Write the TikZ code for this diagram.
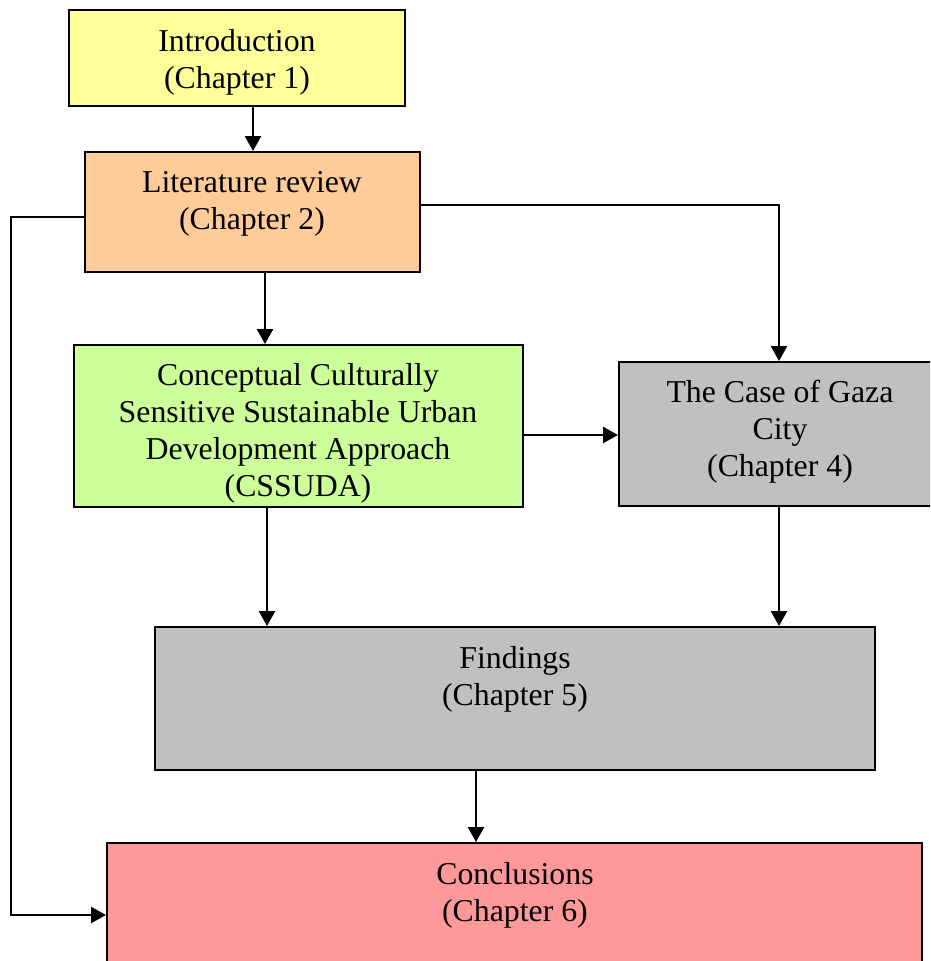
\documentclass[tikz,border=0pt]{standalone}
\usepackage{fontspec}
\setmainfont{Liberation Serif}
\usetikzlibrary{arrows.meta}

\definecolor{introfill}{HTML}{FFFF99}
\definecolor{litfill}{HTML}{FFCC99}
\definecolor{conceptfill}{HTML}{CCFF99}
\definecolor{grayfill}{HTML}{C0C0C0}
\definecolor{conclfill}{HTML}{FF9999}

\begin{document}
\begin{tikzpicture}[x=1pt,y=-1pt,
  box/.style={draw=black, line width=2pt, rectangle, inner sep=0pt},
  label text/.style={align=center, inner sep=0pt,
    font=\fontsize{31.8}{37}\selectfont},
  arr/.style={draw=black, line width=2.5pt,
    -{Triangle[length=15pt,width=16pt]}}]
\useasboundingbox (0,0) rectangle (930,961);
\clip (0,0) rectangle (930,961);

% chapter boxes
\node[box, fill=introfill,   minimum width=336pt, minimum height=96pt]  (intro)  at (237,58) {};
\node[box, fill=litfill,     minimum width=335pt, minimum height=120pt] (lit)    at (252.5,212) {};
\node[box, fill=conceptfill, minimum width=449pt, minimum height=162pt] (concept) at (298.5,426) {};
\node[box, fill=grayfill,    minimum width=321pt, minimum height=144pt] (gaza)   at (779.5,434) {};
\node[box, fill=grayfill,    minimum width=720pt, minimum height=143pt] (find)   at (515,698.5) {};
\node[box, fill=conclfill,   minimum width=815pt, minimum height=132pt] (concl)  at (514.5,909) {};

% box texts
\node[label text] (intro-t)   at (237,62)   {Introduction\\(Chapter 1)};
\node[label text] (lit-t)     at (252,204)  {Literature review\\(Chapter 2)};
\node[label text] (concept-t) at (298,433)  {Conceptual Culturally\\Sensitive Sustainable Urban\\Development Approach\\(CSSUDA)};
\node[label text] (gaza-t)    at (780,432)  {The Case of Gaza\\City\\(Chapter 4)};
\node[label text] (find-t)    at (515,679)  {Findings\\(Chapter 5)};
\node[label text] (concl-t)   at (515,895)  {Conclusions\\(Chapter 6)};

% routing columns and rows
\coordinate (c253) at (253,0);
\coordinate (c265) at (265,0);
\coordinate (c267) at (267,0);
\coordinate (c476) at (476,0);
\coordinate (c779) at (779,0);
\coordinate (r205) at (0,205);
\coordinate (r435) at (0,435);
\coordinate (bendtop) at (11,217);
\coordinate (bendbot) at (11,915);

% connectors
\draw[arr] (intro.south -| c253) -- (lit.north -| c253);
\draw[arr] (lit.south -| c265) -- (concept.north -| c265);
\draw[arr] (lit.east |- r205) -| (gaza.north -| c779);
\draw[arr] (lit.west |- bendtop) -- (bendtop) -- (bendbot) -- (concl.west |- bendbot);
\draw[arr] (concept.east |- r435) -- (gaza.west |- r435);
\draw[arr] (concept.south -| c267) -- (find.north -| c267);
\draw[arr] (gaza.south -| c779) -- (find.north -| c779);
\draw[arr] (find.south -| c476) -- (concl.north -| c476);
\end{tikzpicture}
\end{document}
